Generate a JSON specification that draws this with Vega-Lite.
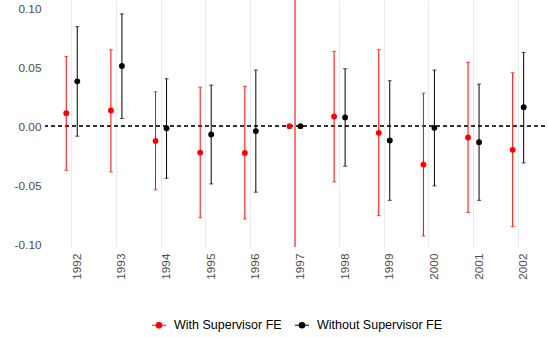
{
  "$schema": "https://vega.github.io/schema/vega-lite/v6.json",
  "width": 500,
  "height": 247,
  "padding": {"left": 45, "top": 0, "right": 3, "bottom": 90},
  "autosize": {"type": "none"},
  "background": "white",
  "config": {
    "font": "Liberation Sans",
    "view": {"stroke": null},
    "axis": {"labelFont": "Liberation Sans"}
  },
  "data": {
    "values": [
      {"year": 1992, "series": "With Supervisor FE", "estimate": 0.011, "lower": -0.0374, "upper": 0.0592},
      {"year": 1992, "series": "Without Supervisor FE", "estimate": 0.038, "lower": -0.0085, "upper": 0.0844},
      {"year": 1993, "series": "With Supervisor FE", "estimate": 0.0133, "lower": -0.0388, "upper": 0.0648},
      {"year": 1993, "series": "Without Supervisor FE", "estimate": 0.051, "lower": 0.0065, "upper": 0.0952},
      {"year": 1994, "series": "With Supervisor FE", "estimate": -0.0125, "lower": -0.054, "upper": 0.0292},
      {"year": 1994, "series": "Without Supervisor FE", "estimate": -0.0017, "lower": -0.0442, "upper": 0.0402},
      {"year": 1995, "series": "With Supervisor FE", "estimate": -0.0224, "lower": -0.0776, "upper": 0.0331},
      {"year": 1995, "series": "Without Supervisor FE", "estimate": -0.0071, "lower": -0.049, "upper": 0.0348},
      {"year": 1996, "series": "With Supervisor FE", "estimate": -0.0227, "lower": -0.0787, "upper": 0.0337},
      {"year": 1996, "series": "Without Supervisor FE", "estimate": -0.0042, "lower": -0.056, "upper": 0.0476},
      {"year": 1997, "series": "With Supervisor FE", "estimate": 0.0, "lower": -0.5, "upper": 0.5},
      {"year": 1997, "series": "Without Supervisor FE", "estimate": 0.0, "lower": null, "upper": null},
      {"year": 1998, "series": "With Supervisor FE", "estimate": 0.0082, "lower": -0.0473, "upper": 0.0634},
      {"year": 1998, "series": "Without Supervisor FE", "estimate": 0.0074, "lower": -0.034, "upper": 0.0487},
      {"year": 1999, "series": "With Supervisor FE", "estimate": -0.0057, "lower": -0.0759, "upper": 0.0648},
      {"year": 1999, "series": "Without Supervisor FE", "estimate": -0.0122, "lower": -0.0629, "upper": 0.0385},
      {"year": 2000, "series": "With Supervisor FE", "estimate": -0.0326, "lower": -0.0932, "upper": 0.028},
      {"year": 2000, "series": "Without Supervisor FE", "estimate": -0.0014, "lower": -0.0507, "upper": 0.0476},
      {"year": 2001, "series": "With Supervisor FE", "estimate": -0.0096, "lower": -0.0731, "upper": 0.0541},
      {"year": 2001, "series": "Without Supervisor FE", "estimate": -0.0136, "lower": -0.0629, "upper": 0.0357},
      {"year": 2002, "series": "With Supervisor FE", "estimate": -0.0201, "lower": -0.0852, "upper": 0.0453},
      {"year": 2002, "series": "Without Supervisor FE", "estimate": 0.0161, "lower": -0.0312, "upper": 0.0626}
    ]
  },
  "encoding": {
    "x": {
      "field": "year", "type": "ordinal",
      "scale": {"type": "band", "paddingInner": 0, "paddingOuter": 0.1},
      "axis": {
        "title": null, "domain": false, "ticks": false,
        "bandPosition": 0.5,
        "grid": true, "gridColor": "#EBEBEB", "gridWidth": 1,
        "labelAngle": 270, "labelAlign": "right", "labelBaseline": "top",
        "labelFontSize": 11.8, "labelColor": "#4D4D4D", "labelPadding": 6
      }
    },
    "color": {
      "field": "series", "type": "nominal",
      "scale": {"domain": ["With Supervisor FE", "Without Supervisor FE"], "range": ["#FF0000", "#000000"]},
      "legend": {
        "title": null, "orient": "none", "direction": "horizontal",
        "legendX": 106, "legendY": 317,
        "labelFontSize": 12.5, "labelColor": "#000000",
        "symbolType": "M-1,0L1,0M-0.39,0A0.39,0.39,0,1,1,0.39,0A0.39,0.39,0,1,1,-0.39,0Z",
        "symbolSize": 196, "symbolStrokeWidth": 1.2,
        "labelOffset": 7, "columnPadding": 10,
        "encode": {"symbols": {"update": {"stroke": {"field": "value", "scale": "color"}, "fill": {"field": "value", "scale": "color"}, "opacity": {"value": 1}}}}
      }
    }
  },
  "layer": [
    {
      "mark": {"type": "rule", "strokeDash": [4, 3], "strokeWidth": 1, "color": "#333333"},
      "encoding": {"y": {"datum": 0, "type": "quantitative"}, "x": null, "color": null}
    },
    {
      "transform": [
        {"filter": "isValid(datum.lower)"},
        {"joinaggregate": [{"op": "count", "as": "n"}], "groupby": ["year"]},
        {"filter": "datum.n == 2"}
      ],
      "layer": [
        {
          "mark": {"type": "rule", "strokeWidth": 1, "clip": true},
          "encoding": {
            "xOffset": {"field": "series", "type": "nominal", "scale": {"type": "point", "padding": 0, "range": [16.8, 27.8]}},
            "y": {"field": "lower", "type": "quantitative"},
            "y2": {"field": "upper"}
          }
        },
        {
          "mark": {"type": "tick", "size": 4, "thickness": 1, "clip": true},
          "encoding": {
            "xOffset": {"field": "series", "type": "nominal", "scale": {"type": "point", "padding": 0, "range": [16.8, 27.8]}},
            "y": {"field": "lower", "type": "quantitative"}
          }
        },
        {
          "mark": {"type": "tick", "size": 4, "thickness": 1, "clip": true},
          "encoding": {
            "xOffset": {"field": "series", "type": "nominal", "scale": {"type": "point", "padding": 0, "range": [16.8, 27.8]}},
            "y": {"field": "upper", "type": "quantitative"}
          }
        }
      ]
    },
    {
      "transform": [
        {"filter": "isValid(datum.lower)"},
        {"joinaggregate": [{"op": "count", "as": "n"}], "groupby": ["year"]},
        {"filter": "datum.n == 1"}
      ],
      "mark": {"type": "rule", "strokeWidth": 1, "clip": true},
      "encoding": {
        "y": {"field": "lower", "type": "quantitative"},
        "y2": {"field": "upper"}
      }
    },
    {
      "mark": {"type": "circle", "size": 34, "opacity": 1},
      "encoding": {
        "xOffset": {"field": "series", "type": "nominal", "scale": {"type": "point", "padding": 0, "range": [16.8, 27.8]}},
        "y": {
          "field": "estimate", "type": "quantitative",
          "scale": {"domain": [-0.1025, 0.107], "nice": false, "zero": false},
          "axis": {
            "title": null, "domain": false, "ticks": false,
            "values": [-0.1, -0.075, -0.05, -0.025, 0, 0.025, 0.05, 0.075, 0.1],
            "labelExpr": "round(datum.value*40) % 2 !== 0 ? '' : (datum.value < 0 ? '-' + format(-datum.value, '.2f') : format(datum.value, '.2f'))",
            "gridColor": "#EBEBEB",
            "gridWidth": {"condition": {"test": "round(datum.value*40) % 2 !== 0", "value": 0.55}, "value": 1.1},
            "labelFontSize": 11.8, "labelColor": "#4D4D4D", "labelPadding": 4
          }
        }
      }
    }
  ],
  "resolve": {"scale": {"y": "shared"}}
}
